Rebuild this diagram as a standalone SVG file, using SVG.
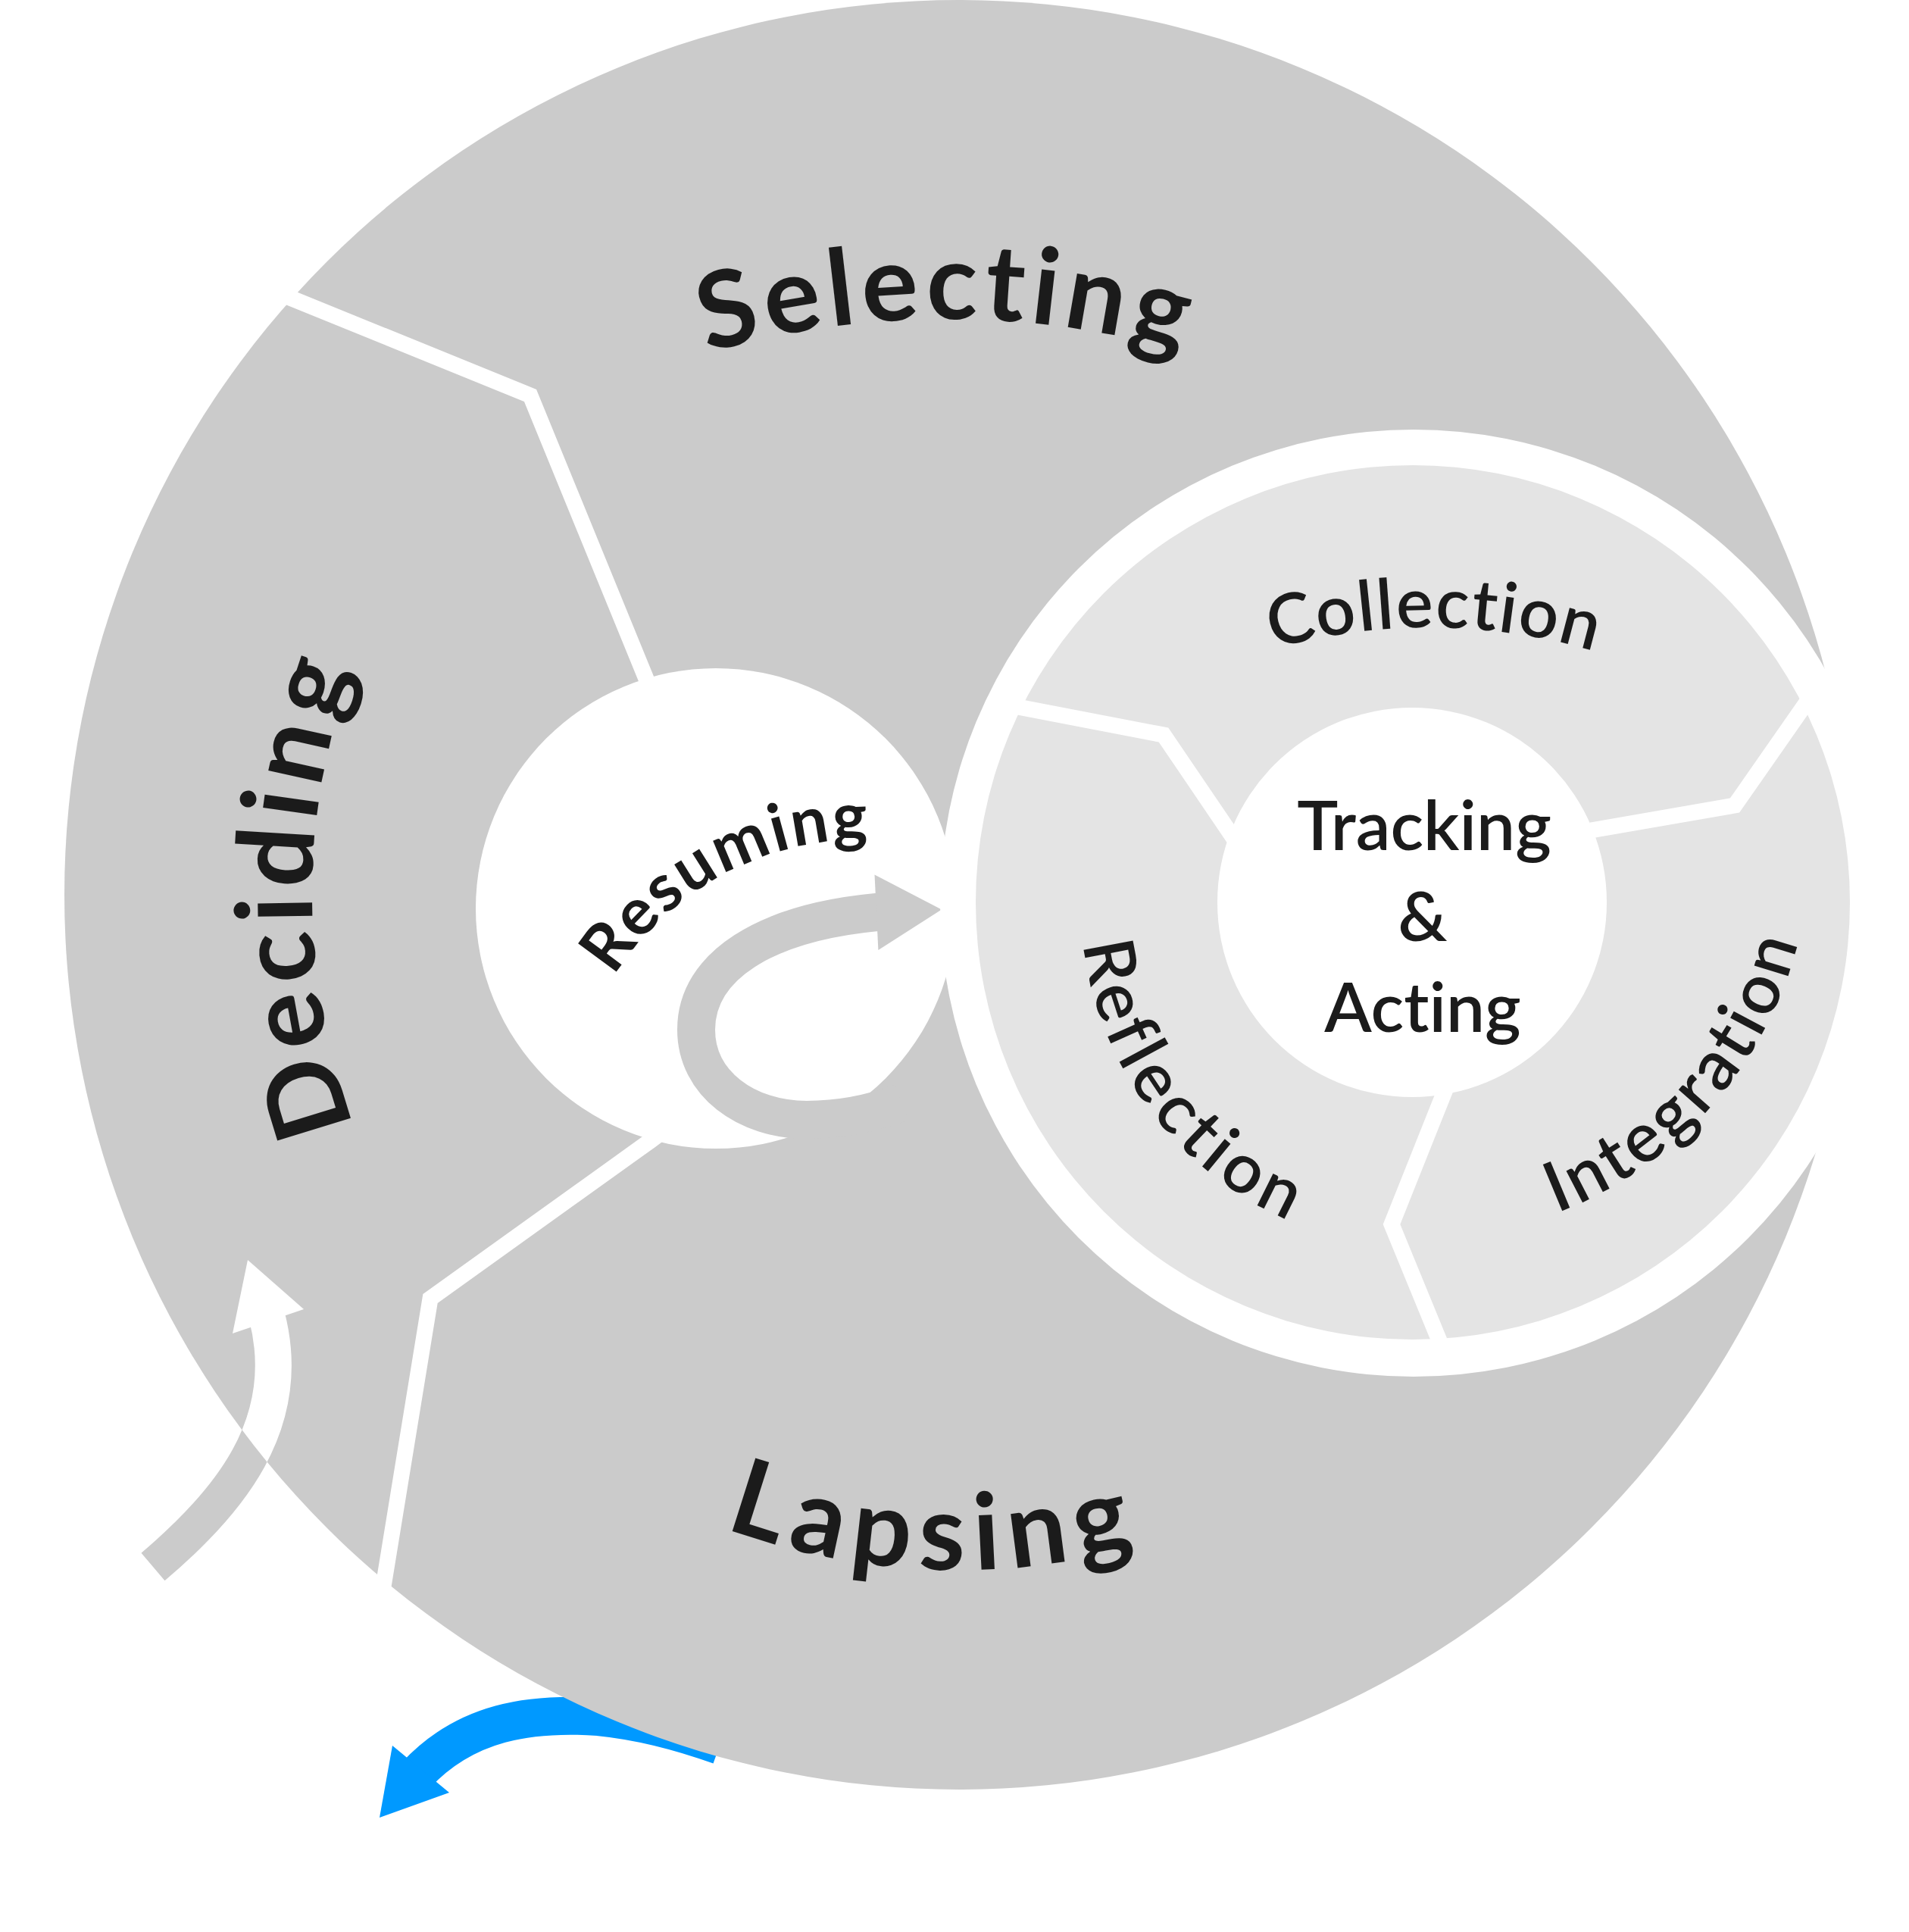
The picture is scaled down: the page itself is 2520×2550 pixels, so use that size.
<svg xmlns="http://www.w3.org/2000/svg" width="2520" height="2550" viewBox="0 0 2520 2550">
<defs>
<style>
.grey{fill:#cbcbcb}
.light{fill:#e4e4e4}
.wh{fill:#ffffff}
.sep{fill:none;stroke:#ffffff;stroke-width:21;stroke-linejoin:miter;stroke-miterlimit:10}
.lbl{font-family:Lato,"Noto Sans",sans-serif;fill:#1b1b1b;font-variant-ligatures:none;font-feature-settings:"liga" 0,"dlig" 0}
.big{font-size:140px;font-weight:700}
.res{font-size:87px;font-weight:700;letter-spacing:3px}
.inner{font-size:92px;font-weight:600}
.core{font-size:91px;font-weight:600}
</style>
<clipPath id="bigClip"><circle cx="1266" cy="1181" r="1181"/></clipPath>
<path id="pSel" d="M 517.2 687.7 A 1140 1140 0 0 1 1982.8 687.7"/>
<path id="pDec" d="M 839 1920.6 A 854 854 0 0 1 839 441.4"/>
<path id="pLap" d="M 477.8 1596.6 A 891 891 0 0 0 2020 1655.8"/>
<path id="pRes" d="M 750.2 1484.1 A 389 389 0 0 1 1344.5 1166.7"/>
<path id="pCol" d="M 1401.7 1002.3 A 763 763 0 0 1 2382.5 1010.8"/>
<path id="pRef" d="M 1463.3 1013.4 A 457 457 0 0 0 1939.7 1645.6"/>
<path id="pInt" d="M 1765 1625 A 521 521 0 0 0 2363 949"/>
<g id="leftArrowShape">
<path d="M 202 2068 C 300 1985 390 1880 352 1736" fill="none" stroke-width="48"/>
<polygon points="307,1760 327,1663 401,1728" stroke="none"/>
</g>
</defs>

<g id="connectors">
<g id="lapse-arrow">
<path d="M 549 2343 C 615 2272 700 2260 790 2266 C 850 2272 900 2286 950 2304" fill="none" stroke="#0099ff" stroke-width="50"/>
<polygon points="518,2304 501,2399 593,2366" fill="#0099ff"/>
</g>
</g>

<g id="outer-cycle">
<circle class="grey" cx="1266" cy="1181" r="1181"/>
</g>

<g id="connectors-entry">
<use href="#leftArrowShape" stroke="#cbcbcb" fill="#cbcbcb"/>
<g clip-path="url(#bigClip)">
<use href="#leftArrowShape" stroke="#ffffff" fill="#ffffff"/>
</g>
</g>

<g id="outer-separators">
<polyline class="sep" points="363,385 700,522 853,896 864,924"/>
<polyline class="sep" points="878,1491 858,1506 568,1714 506,2094 501,2124"/>
</g>

<g id="node-resuming">
<circle class="wh" cx="945" cy="1199" r="317"/>
<path d="M 1165 1203 L 1157 1204 C 1010 1218 919 1275 919 1359 C 919 1430 985 1478 1065 1478 C 1110 1478 1150 1470 1190 1455" fill="none" stroke="#cbcbcb" stroke-width="50"/>
<polygon points="1154.5,1154.5 1243,1200.4 1159.4,1254" fill="#cbcbcb"/>
<text class="lbl res"><textPath href="#pRes" startOffset="50%" text-anchor="middle">Resuming</textPath></text>
</g>

<g id="node-inner-cycle">
<circle class="wh" cx="1866" cy="1192" r="625"/>
<circle class="light" cx="1865" cy="1191" r="577"/>
<g id="inner-separators">
<polyline class="sep" points="1328,930 1536,970 1650,1138"/>
<polyline class="sep" points="2100,1096 2290,1063 2410,891"/>
<polyline class="sep" points="1912,1428 1837,1616 1915,1806"/>
</g>
</g>

<g id="node-tracking">
<circle class="wh" cx="1864" cy="1191" r="257"/>
<text class="lbl core" x="1880" y="1122" text-anchor="middle">Tracking</text>
<text class="lbl core" x="1878" y="1242" text-anchor="middle">&amp;</text>
<text class="lbl core" x="1878" y="1362" text-anchor="middle">Acting</text>
</g>

<g id="node-selecting">
<text class="lbl big" letter-spacing="8"><textPath href="#pSel" startOffset="50%" text-anchor="middle">Selecting</textPath></text>
</g>
<g id="node-deciding">
<text class="lbl big" letter-spacing="9"><textPath href="#pDec" startOffset="50%" text-anchor="middle">Deciding</textPath></text>
</g>
<g id="node-lapsing">
<text class="lbl big" letter-spacing="13"><textPath href="#pLap" startOffset="50%" text-anchor="middle">Lapsing</textPath></text>
</g>
<g id="node-collection">
<text class="lbl inner" letter-spacing="2"><textPath href="#pCol" startOffset="50%" text-anchor="middle">Collection</textPath></text>
</g>
<g id="node-reflection">
<text class="lbl inner" letter-spacing="7"><textPath href="#pRef" startOffset="50%" text-anchor="middle">Reflection</textPath></text>
</g>
<g id="node-integration">
<text class="lbl inner" letter-spacing="5"><textPath href="#pInt" startOffset="50%" text-anchor="middle">Integration</textPath></text>
</g>
</svg>
